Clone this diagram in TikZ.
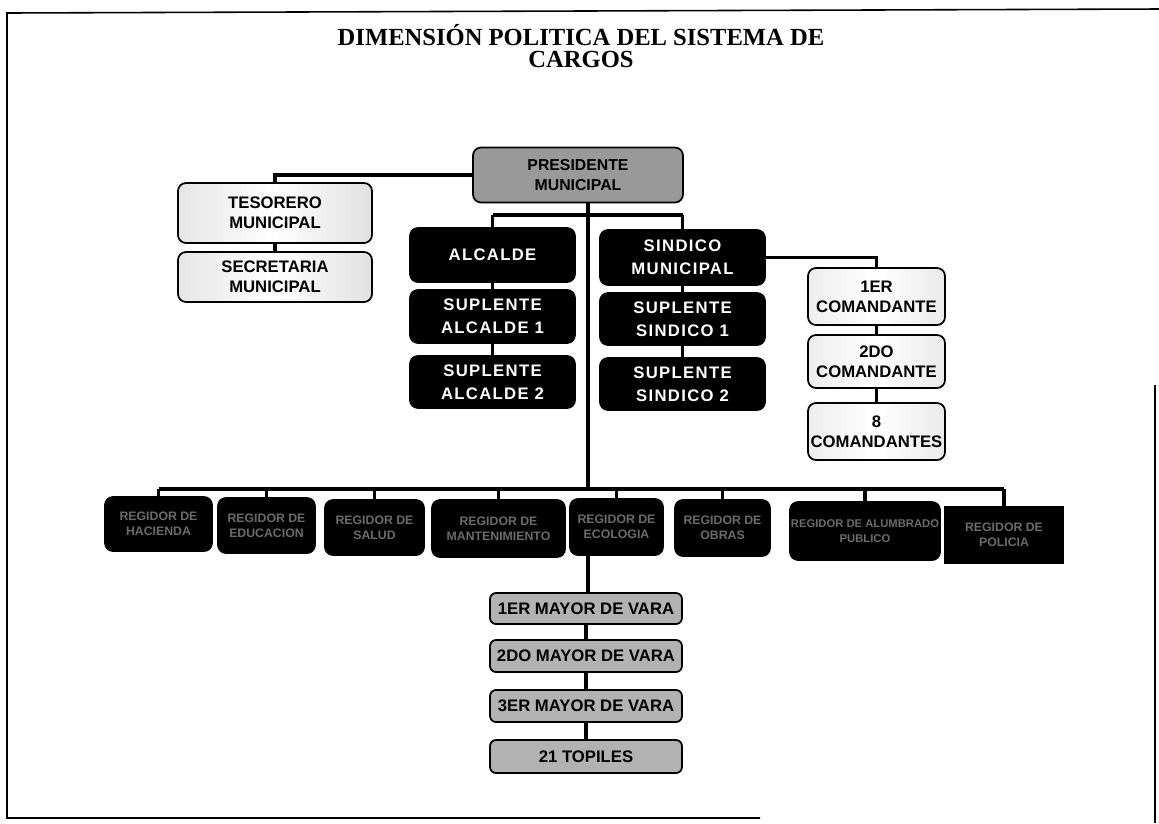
\documentclass[tikz,border=0pt]{standalone}
\usepackage{fontspec}
\setmainfont{Liberation Sans}
\newfontfamily\titlefont{Liberation Serif}
\newfontfamily\spacedfont[LetterSpace=8]{Liberation Sans}
\begin{document}
\begin{tikzpicture}[x=0.02cm,y=-0.02cm,
  box/.style={draw=black, line width=1pt, rounded corners=0.16cm, align=center,
    inner sep=1pt, font=\bfseries\fontsize{9.5}{11.5}\selectfont},
  darkbox/.style={box, fill=black, text=white, font=\spacedfont\bfseries\fontsize{9.5}{13}\selectfont},
  regbox/.style={box, fill=black, text=black!58, inner sep=0pt, font=\bfseries\fontsize{7}{8.5}\selectfont},
  lightbox/.style={box, left color=black!10, right color=black!12, middle color=white},
  combox/.style={box, left color=black!7, right color=black!8, middle color=white},
  presbox/.style={box, fill=black!40, font=\bfseries\fontsize{9}{11}\selectfont},
  mayorbox/.style={box, fill=black!30, rounded corners=0.12cm},
  conn/.style={line width=2pt},
  frame/.style={line width=0.9pt}]
\useasboundingbox (0,0) rectangle (1159,823);
% frame
\draw[frame] (1159,9) -- (7,13) -- (7,818) -- (760,818);
\draw[frame] (1155,385) -- (1155,823);
% title
\node[font=\titlefont\bfseries\fontsize{14}{13}\selectfont, align=center] (title) at (581,46)
  {DIMENSIÓN POLITICA DEL SISTEMA DE\\CARGOS};
\coordinate (bus) at (588,489);
\coordinate (upbus) at (588,215);
% top
\node[presbox, minimum width=4.2cm, minimum height=1.1cm] (pres) at (578,175) {PRESIDENTE\\MUNICIPAL};
\node[lightbox, minimum width=3.88cm, minimum height=1.2cm] (tes) at (275,213) {TESORERO\\MUNICIPAL};
\node[lightbox, minimum width=3.88cm, minimum height=1.0cm] (sec) at (275,277) {SECRETARIA\\MUNICIPAL};
% alcalde
\node[darkbox, minimum width=3.3cm, minimum height=1.08cm] (alc) at (492.5,255) {ALCALDE};
\node[darkbox, minimum width=3.3cm, minimum height=1.06cm] (sa1) at (492.5,316.5) {SUPLENTE\\ALCALDE 1};
\node[darkbox, minimum width=3.3cm, minimum height=1.04cm] (sa2) at (492.5,382) {SUPLENTE\\ALCALDE 2};
% sindico
\node[darkbox, minimum width=3.3cm, minimum height=1.1cm] (sin) at (682.5,257.5) {SINDICO\\MUNICIPAL};
\node[darkbox, minimum width=3.3cm, minimum height=1.04cm] (ss1) at (682.5,319) {SUPLENTE\\SINDICO 1};
\node[darkbox, minimum width=3.3cm, minimum height=1.04cm] (ss2) at (682.5,384) {SUPLENTE\\SINDICO 2};
% comandantes
\node[combox, minimum width=2.74cm, minimum height=1.14cm] (c1) at (876.5,296.5) {1ER\\COMANDANTE};
\node[combox, minimum width=2.74cm, minimum height=1.06cm] (c2) at (876.5,361.5) {2DO\\COMANDANTE};
\node[combox, minimum width=2.74cm, minimum height=1.14cm] (c8) at (876.5,431.5) {8\\COMANDANTES};
% regidores
\node[regbox, minimum width=2.14cm, minimum height=1.08cm] (r1) at (158.5,524) {REGIDOR DE\\HACIENDA};
\node[regbox, minimum width=1.94cm, minimum height=1.1cm] (r2) at (266.5,525.5) {REGIDOR DE\\EDUCACION};
\node[regbox, minimum width=1.98cm, minimum height=1.1cm] (r3) at (374.5,527.5) {REGIDOR DE\\SALUD};
\node[regbox, minimum width=2.66cm, minimum height=1.14cm] (r4) at (498.5,528.5) {REGIDOR DE\\MANTENIMIENTO};
\node[regbox, minimum width=1.86cm, minimum height=1.12cm] (r5) at (616.5,527) {REGIDOR DE\\ECOLOGIA};
\node[regbox, minimum width=1.9cm, minimum height=1.12cm] (r6) at (722.5,528) {REGIDOR DE\\OBRAS};
\node[regbox, minimum width=3.0cm, minimum height=1.16cm, font=\bfseries\fontsize{6.4}{8.5}\selectfont] (r7) at (865,531) {REGIDOR DE ALUMBRADO\\PUBLICO};
\node[regbox, rounded corners=0pt, minimum width=2.36cm, minimum height=1.12cm] (r8) at (1004,535) {REGIDOR DE\\POLICIA};
% mayores
\node[mayorbox, minimum width=3.84cm, minimum height=0.62cm] (m1) at (586,608.5) {1ER MAYOR DE VARA};
\node[mayorbox, minimum width=3.84cm, minimum height=0.64cm] (m2) at (586,656) {2DO MAYOR DE VARA};
\node[mayorbox, minimum width=3.84cm, minimum height=0.64cm] (m3) at (586,706) {3ER MAYOR DE VARA};
\node[mayorbox, minimum width=3.84cm, minimum height=0.66cm] (m4) at (586,756.5) {21 TOPILES};
% connectors
\draw[conn] (pres.west) -| (tes.north);
\draw[conn] (tes.south) -- (sec.north);
\draw[conn] (bus |- pres.south) -- (bus);
\draw[conn] (alc.north |- upbus) -- (sin.north |- upbus);
\draw[conn] (alc.north |- upbus) -- (alc.north);
\draw[conn] (sin.north |- upbus) -- (sin.north);
\draw[conn] (alc.south) -- (sa1.north);
\draw[conn] (sa1.south) -- (sa2.north);
\draw[conn] (sin.south) -- (ss1.north);
\draw[conn] (ss1.south) -- (ss2.north);
\draw[conn] (sin.east) -| (c1.north);
\draw[conn] (c1.south) -- (c2.north);
\draw[conn] (c2.south) -- (c8.north);
\draw[conn] (r1.north |- bus) -- (r8.north |- bus);
\foreach \r in {r1,r2,r3,r4,r5,r6,r7,r8} {\draw[conn] (\r.north |- bus) -- (\r.north);}
\draw[conn] (r5.south -| bus) -- (m1.north -| bus);
\draw[conn] (m1.south) -- (m2.north);
\draw[conn] (m2.south) -- (m3.north);
\draw[conn] (m3.south) -- (m4.north);
\end{tikzpicture}
\end{document}
